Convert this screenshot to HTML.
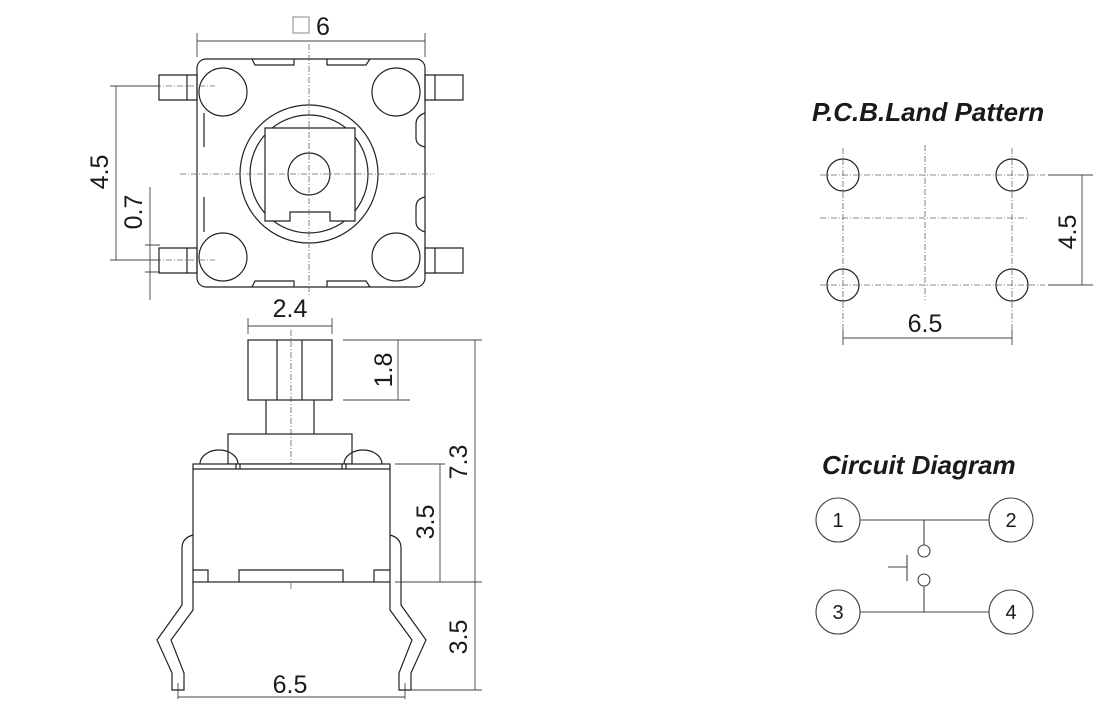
<!DOCTYPE html>
<html><head><meta charset="utf-8"><style>
html,body{margin:0;padding:0;background:#fff;}
svg{display:block;}
text{font-family:"Liberation Sans",sans-serif;fill:#1a1a1a;}
</style></head><body>
<svg width="1120" height="716" viewBox="0 0 1120 716" xmlns="http://www.w3.org/2000/svg">
<g fill="none" stroke="#222" stroke-width="1.2">
<rect x="197" y="59" width="228" height="228" rx="9"/>
<path d="M252 59 L255 65 L294 65 L294 59 M327 59 L327 65 L366 65 L370 59"/>
<path d="M252 287 L255 281 L294 281 L294 287 M327 287 L327 281 L366 281 L370 287"/>
<circle cx="223" cy="92" r="24"/><circle cx="396" cy="92" r="24"/>
<circle cx="223" cy="257" r="24"/><circle cx="396" cy="257" r="24"/>
<circle cx="309" cy="174" r="69"/><circle cx="309" cy="174" r="59"/>
<path d="M265 128 H355 V221 H330 V212 H290 V221 H265 Z" fill="#fff"/>
<circle cx="309" cy="174" r="21"/>
<path d="M159 75 H197 V100 H159 Z M187 75 V100"/>
<path d="M159 248 H197 V273 H159 Z M187 248 V273"/>
<path d="M425 75 H463 V100 H425 Z M435 75 V100"/>
<path d="M425 248 H463 V273 H425 Z M435 248 V273"/>
<path d="M425 113 Q416 116 416 124 V138 Q416 145 425 147"/>
<path d="M425 197 Q416 199 416 207 V222 Q416 229 425 232"/>
<path d="M204 113 V147 M204 197 V232"/>
</g>
<g fill="none" stroke="#666" stroke-width="0.8" stroke-dasharray="6,2,1,2">
<path d="M309 44 V296 M180 174 H434 M155 86 H215 M155 260 H215"/>
<path d="M843 148 V330 M1012 148 V330 M925 145 V300 M820 175 H1045 M820 285 H1045 M820 218 H1028"/>
<path d="M291 330 V590"/>
</g>
<g fill="none" stroke="#444" stroke-width="0.9">
<path d="M197 33 V57 M425 33 V57 M197 41 H425"/>
<path d="M110 86 H160 M110 260 H160 M116 86 V260"/>
<path d="M150 187 V300 M145 245 H160 M145 272 H160"/>
<path d="M248 318 V334 M332 318 V334 M248 326 H332"/>
<path d="M343 340 H482 M343 400 H410 M398 340 V400"/>
<path d="M395 464 H445 M440 464 V582 M395 582 H482 M475 340 V690 M410 690 H482"/>
<path d="M178 683 V699 M405 683 V699 M178 697 H405"/>
<path d="M1048 175 H1093 M1048 285 H1093 M1082 175 V285"/>
<path d="M843 330 V345 M1012 330 V345 M843 338 H1012"/>
</g>
<rect x="293" y="17" width="16" height="16" fill="none" stroke="#888" stroke-width="1"/>
<text x="316" y="35" font-size="25">6</text>
<text transform="translate(108,172) rotate(-90)" font-size="25" text-anchor="middle">4.5</text>
<text transform="translate(142,212) rotate(-90)" font-size="25" text-anchor="middle">0.7</text>
<text x="290" y="317" font-size="25" text-anchor="middle">2.4</text>
<text transform="translate(392,370) rotate(-90)" font-size="25" text-anchor="middle">1.8</text>
<text transform="translate(467,462) rotate(-90)" font-size="25" text-anchor="middle">7.3</text>
<text transform="translate(434,522) rotate(-90)" font-size="25" text-anchor="middle">3.5</text>
<text transform="translate(467,637) rotate(-90)" font-size="25" text-anchor="middle">3.5</text>
<text x="290" y="693" font-size="25" text-anchor="middle">6.5</text>
<g fill="none" stroke="#222" stroke-width="1.2">
<rect x="248" y="340" width="84" height="60"/>
<path d="M277 340 V400 M302 340 V400"/>
<path d="M266 400 V434 M314 400 V434"/>
<rect x="228" y="434" width="124" height="30"/>
<path d="M200 464 A19 14 0 0 1 238 464 M344 464 A19 14 0 0 1 382 464"/>
<rect x="193" y="464" width="197" height="118" fill="#fff"/>
<path d="M193 469 H390 M236 464 V469 M240 464 V469 M342 464 V469 M346 464 V469"/>
<path d="M193 570 H208 V582 M239 582 V570 H343 V582 M390 570 H374 V582"/>
<path d="M193 535 Q182 538 182 548 V605 L157 640 L172 673 V690 H184 V673 L171 640 L193 610 V582"/>
<path d="M390 535 Q401 538 401 548 V605 L426 640 L411 673 V690 H399 V673 L412 640 L390 610 V582"/>
</g>
<text x="812" y="121" font-size="26" font-weight="bold" font-style="italic">P.C.B.Land Pattern</text>
<g fill="none" stroke="#222" stroke-width="1.2">
<circle cx="843" cy="175" r="16"/><circle cx="1012" cy="175" r="16"/>
<circle cx="843" cy="285" r="16"/><circle cx="1012" cy="285" r="16"/>
</g>
<text transform="translate(1076,232) rotate(-90)" font-size="25" text-anchor="middle">4.5</text>
<text x="925" y="332" font-size="25" text-anchor="middle">6.5</text>
<text x="822" y="474" font-size="26" font-weight="bold" font-style="italic">Circuit Diagram</text>
<g fill="none" stroke="#444" stroke-width="1.1">
<circle cx="838" cy="520" r="22"/><circle cx="1011" cy="520" r="22"/>
<circle cx="838" cy="612" r="22"/><circle cx="1011" cy="612" r="22"/>
<path d="M860 520 H989 M860 612 H989 M924 520 V545 M924 586 V612"/>
<circle cx="924" cy="551" r="6"/><circle cx="924" cy="580" r="6"/>
<path d="M907 555 V581 M888 567 H907"/>
</g>
<g font-size="20" text-anchor="middle">
<text x="838" y="527">1</text><text x="1011" y="527">2</text>
<text x="838" y="619">3</text><text x="1011" y="619">4</text>
</g>
</svg>
</body></html>
